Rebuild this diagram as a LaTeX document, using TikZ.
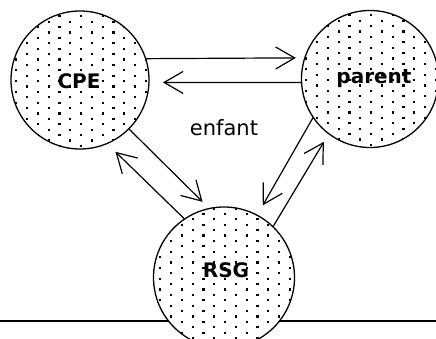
\documentclass[tikz,border=0pt]{standalone}
\usepackage{fontspec}
\usetikzlibrary{arrows.meta}
\newfontfamily\labfont{DejaVu Sans}
\tikzset{
  bubble/.style={circle, draw, line width=1.3pt, fill=white, inner sep=0pt, outer sep=0pt,
    path picture={
      \foreach \i in {-7,...,7}{\foreach \j in {-7,...,7}{
        \fill[black] ([shift={({10.8*\i},{10.8*\j+5.4*mod(abs(\i),2)})}]path picture bounding box.center) rectangle +(2.2,2.2);
      }}
    }},
  lab/.style={font=\labfont\bfseries\fontsize{20}{24}\selectfont, inner sep=0pt},
  conn/.style={line width=1.2pt, -{Straight Barb[length=19pt,width=22pt]}},
  plain/.style={font=\labfont\fontsize{21}{25}\selectfont, inner sep=0pt}
}
\begin{document}
\begin{tikzpicture}[x=1pt,y=-1pt]
\useasboundingbox (0,0) rectangle (436,339);
\coordinate (gl) at (0,321);
\coordinate (gr) at (436,321);
\draw[line width=2pt] (gl) -- (gr);
\node[bubble, minimum size=138pt] (cpe) at (80,80) {};
\node[bubble, minimum size=137pt] (par) at (370,79) {};
\node[bubble, minimum size=141pt] (rsg) at (224,277.5) {};
\node[lab] (tcpe) at (79,81) {CPE};
\node[lab] (tpar) at (374,79) {parent};
\node[lab] (trsg) at (226,270) {RSG};
\node[plain] (enf) at (224,128) {enfant};
\draw[conn, shorten >=9pt] (cpe.18.6) -- (par.162);
\draw[conn, shorten >=14pt] (par.183.4) -- (cpe.-2.5);
\draw[conn, shorten >=9.5pt] (cpe.-45) -- (rsg.102.6);
\draw[conn, shorten >=11.9pt] (rsg.124.8) -- (cpe.-67.4);
\draw[conn, shorten >=11.4pt] (par.214.9) -- (rsg.62.6);
\draw[conn, shorten >=9.5pt] (rsg.46.7) -- (par.233.5);
\end{tikzpicture}
\end{document}
